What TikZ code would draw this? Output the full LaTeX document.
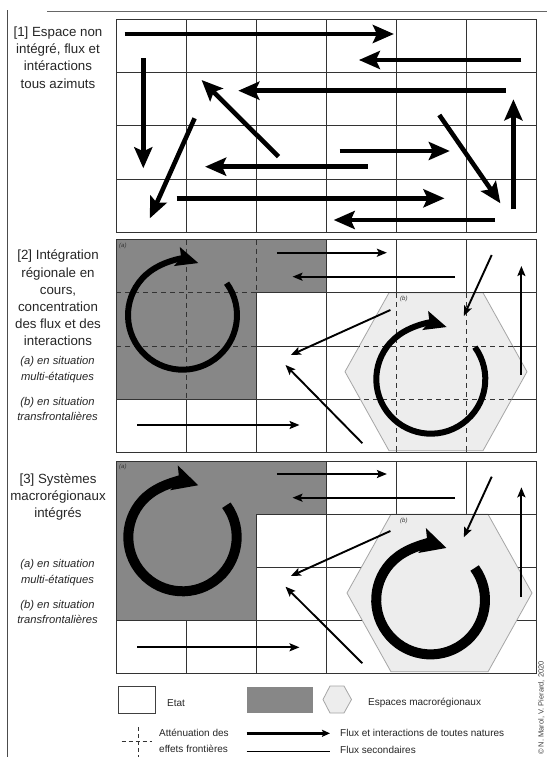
\documentclass[tikz,border=0pt]{standalone}
\usepackage{fontspec}
\setmainfont{Liberation Sans}
\usetikzlibrary{arrows.meta}
\begin{document}
\begin{tikzpicture}[x=1pt,y=-1pt,
  grid/.style={draw=black!80, line width=0.8pt},
  dashgrid/.style={draw=black!80, line width=0.8pt, dash pattern=on 5pt off 4pt},
  region/.style={fill=black!47},
  hexa/.style={fill=black!7, draw=black!35, line width=0.8pt},
  bigflow/.style={line width=4.6pt, -{Stealth[length=21pt,width=18pt,inset=4pt]}},
  thinflow/.style={line width=1.9pt, -{Stealth[length=10pt,width=8pt,inset=2pt]}},
  cyc/.style={line width=6pt, -{Stealth[length=22pt,width=19pt,inset=4pt]}},
  cycbig/.style={line width=10pt, -{Stealth[length=25pt,width=25pt,inset=5pt]}},
  lab/.style={font=\fontsize{13.3}{17.2}\selectfont, align=center, text=black!85},
  ilab/.style={font=\fontsize{11.2}{15.3}\selectfont\itshape, align=center, text=black!85},
  tinylab/.style={font=\fontsize{6}{7}\selectfont\itshape, inner sep=0, text=black!80},
  leg/.style={font=\fontsize{10}{12}\selectfont, anchor=west, inner sep=0, text=black!85}
]
\useasboundingbox (0,0) rectangle (547,757);
\fill[white] (0,0) rectangle (547,757);

% page frame lines
\draw[black!70, line width=1pt] (7.5,10.5) -- (7.5,757);
\draw[black!60, line width=1pt] (47,11.5) -- (547,11.5);

% ---------------- panel 1 ----------------
\begin{scope}[shift={(0,19.3)}]
  \draw[grid] (116,0) rectangle (536,213);
  \foreach \x in {186,256,326,396,466} \draw[grid] (\x,0) -- (\x,213);
  \foreach \y in {53.25,106.5,159.75} \draw[grid] (116,\y) -- (536,\y);
\end{scope}
\draw[bigflow] (124.7,34) -- (393.9,34);
\draw[bigflow] (521.4,60) -- (358.9,60);
\draw[bigflow] (505.7,90.7) -- (238.3,90.7);
\draw[bigflow] (143.3,58.3) -- (143.3,168.3);
\draw[bigflow] (278.5,156.7) -- (201.6,80);
\draw[bigflow] (194.6,118.3) -- (149.9,218.3);
\draw[bigflow] (339.7,151) -- (449.8,151);
\draw[bigflow] (367.6,166.7) -- (205.1,166.7);
\draw[bigflow] (176.5,198.3) -- (444.5,198.3);
\draw[bigflow] (495.2,220) -- (333.7,220);
\draw[bigflow] (439.3,115) -- (500.4,203.3);
\draw[bigflow] (513.4,209.3) -- (513.4,99.3);

% ---------------- panel 2 ----------------
\begin{scope}[shift={(0,239.5)}]
  \fill[region] (116,0) -- (326,0) -- (326,53.25) -- (256,53.25) -- (256,159.75) -- (116,159.75) -- cycle;
  \draw[grid] (116,0) rectangle (536,213);
  \draw[grid] (186,159.75) -- (186,213);
  \draw[grid] (256,53.25) -- (256,213);
  \draw[grid] (326,0) -- (326,213);
  \draw[grid] (396,0) -- (396,213);
  \draw[grid] (466,0) -- (466,213);
  \draw[grid] (256,106.5) -- (536,106.5);
  \draw[grid] (116,159.75) -- (536,159.75);
  \draw[hexa] (345,132.2) -- (389,53.25) -- (483,53.25) -- (527,132.2) -- (483,211.2) -- (389,211.2) -- cycle;
  \begin{scope}
    \clip (345,132.2) -- (389,53.25) -- (483,53.25) -- (527,132.2) -- (483,211.2) -- (389,211.2) -- cycle;
    \draw[dashgrid] (396,53.25) -- (396,213) (466,53.25) -- (466,213)
                    (256,106.5) -- (536,106.5) (256,159.75) -- (536,159.75);
  \end{scope}
  \draw[grid] (256,53.25) -- (536,53.25);
  \draw[dashgrid] (186,0) -- (186,159.75) (256,0) -- (256,53.25)
                  (116,53.25) -- (256,53.25) (116,106.5) -- (256,106.5);
  \node[tinylab, anchor=north west] at (119,3) {(a)};
  \node[tinylab, anchor=north west] at (400,56.5) {(b)};
  % cycles
  \draw[cyc] ([shift={(182.5,75.7)}]36:54.5pt) arc[start angle=36, end angle=-287, radius=54.5pt];
  \draw[cyc] ([shift={(430.8,139.7)}]36:54.5pt) arc[start angle=36, end angle=-287, radius=54.5pt];
  % secondary flows
  \draw[thinflow] (276.8,13.2) -- (386.9,13.2);
  \draw[thinflow] (455,37.2) -- (292.5,37.2);
  \draw[thinflow] (491.7,15.5) -- (463.8,76.5);
  \draw[thinflow] (521.4,135.5) -- (521.4,26.5);
  \draw[thinflow] (390.4,70.5) -- (290.8,115.5);
  \draw[thinflow] (362.4,203.8) -- (285.5,125.5);
  \draw[thinflow] (137,185.5) -- (299.5,185.5);
\end{scope}

% ---------------- panel 3 ----------------
\begin{scope}[shift={(0,461)}]
  \fill[region] (116,0) -- (326,0) -- (326,53.25) -- (256,53.25) -- (256,159.75) -- (116,159.75) -- cycle;
  \draw[grid] (116,0) rectangle (536,212.5);
  \draw[grid] (186,159.75) -- (186,212.5);
  \draw[grid] (256,53.25) -- (256,212.5);
  \draw[grid] (326,0) -- (326,212.5);
  \draw[grid] (396,0) -- (396,53.25);
  \draw[grid] (466,0) -- (466,53.25);
  \draw[grid] (256,106.5) -- (536,106.5);
  \draw[grid] (116,159.75) -- (536,159.75);
  \draw[hexa] (347,132) -- (391,53.25) -- (488,53.25) -- (532,132) -- (488,210.8) -- (391,210.8) -- cycle;
  \draw[grid] (256,53.25) -- (536,53.25);
  \node[tinylab, anchor=north west] at (119,3) {(a)};
  \node[tinylab, anchor=north west] at (400,56.5) {(b)};
  \draw[cycbig] ([shift={(182.5,76.1)}]36:54.2pt) arc[start angle=36, end angle=-287, radius=54.2pt];
  \draw[cycbig] ([shift={(430.6,139)}]36:54.4pt) arc[start angle=36, end angle=-287, radius=54.4pt];
  \draw[thinflow] (276.8,13) -- (386.9,13);
  \draw[thinflow] (455,36.7) -- (292.5,36.7);
  \draw[thinflow] (491.7,15.7) -- (463.8,76.3);
  \draw[thinflow] (521.4,135.7) -- (521.4,26.3);
  \draw[thinflow] (390.4,70) -- (290.8,115);
  \draw[thinflow] (362.4,202.3) -- (285.5,125.7);
  \draw[thinflow] (137,186.3) -- (299.5,186.3);
\end{scope}

% ---------------- left labels ----------------
\node[lab] (t1) at (58,57.5) {[1] Espace non\\intégré, flux et\\intéractions\\tous azimuts};
\node[lab] (t2) at (58,298) {[2] Intégration\\régionale en\\cours,\\concentration\\des flux et des\\interactions};
\node[ilab] (t2a) at (57.5,369.5) {(a) en situation\\multi-étatiques};
\node[ilab] (t2b) at (57.5,409.2) {(b) en situation\\transfrontalières};
\node[lab] (t3) at (58,496.7) {[3] Systèmes\\macrorégionaux\\intégrés};
\node[ilab] (t3a) at (57.5,572.5) {(a) en situation\\multi-étatiques};
\node[ilab] (t3b) at (57.5,611.7) {(b) en situation\\transfrontalières};

% ---------------- legend ----------------
\draw[black!75, line width=0.8pt] (118.3,686) rectangle (155,713);
\node[leg] (l1) at (167,703) {Etat};
\fill[region] (246.7,687.3) rectangle (313.3,713.3);
\draw[hexa] (323,699.5) -- (330,686) -- (344,686) -- (351.5,699.5) -- (344,713) -- (330,713) -- cycle;
\node[leg] (l2) at (368,702.7) {Espaces macrorégionaux};
\draw[black!80, line width=0.8pt, dash pattern=on 4pt off 3pt] (138.3,727) -- (138.3,757) (121.7,741.7) -- (151.7,741.7);
\node[leg] (l3) at (159,733.3) {Atténuation des};
\node[leg] (l4) at (159,748.5) {effets frontières};
\draw[line width=3pt, -{Stealth[length=8pt,width=7pt,inset=1.5pt]}] (246.7,733.3) -- (330,733.3);
\node[leg] (l5) at (340,732.7) {Flux et interactions de toutes natures};
\draw[black, line width=0.8pt] (246.7,751.5) -- (330,751.5);
\node[leg] (l6) at (340,750.3) {Flux secondaires};
\node[font=\fontsize{7.5}{8}\selectfont, text=black!75, rotate=90, anchor=north west, inner sep=0] (cr) at (538,755) {© N. Marol, V. Pierard, 2020};
\end{tikzpicture}
\end{document}
